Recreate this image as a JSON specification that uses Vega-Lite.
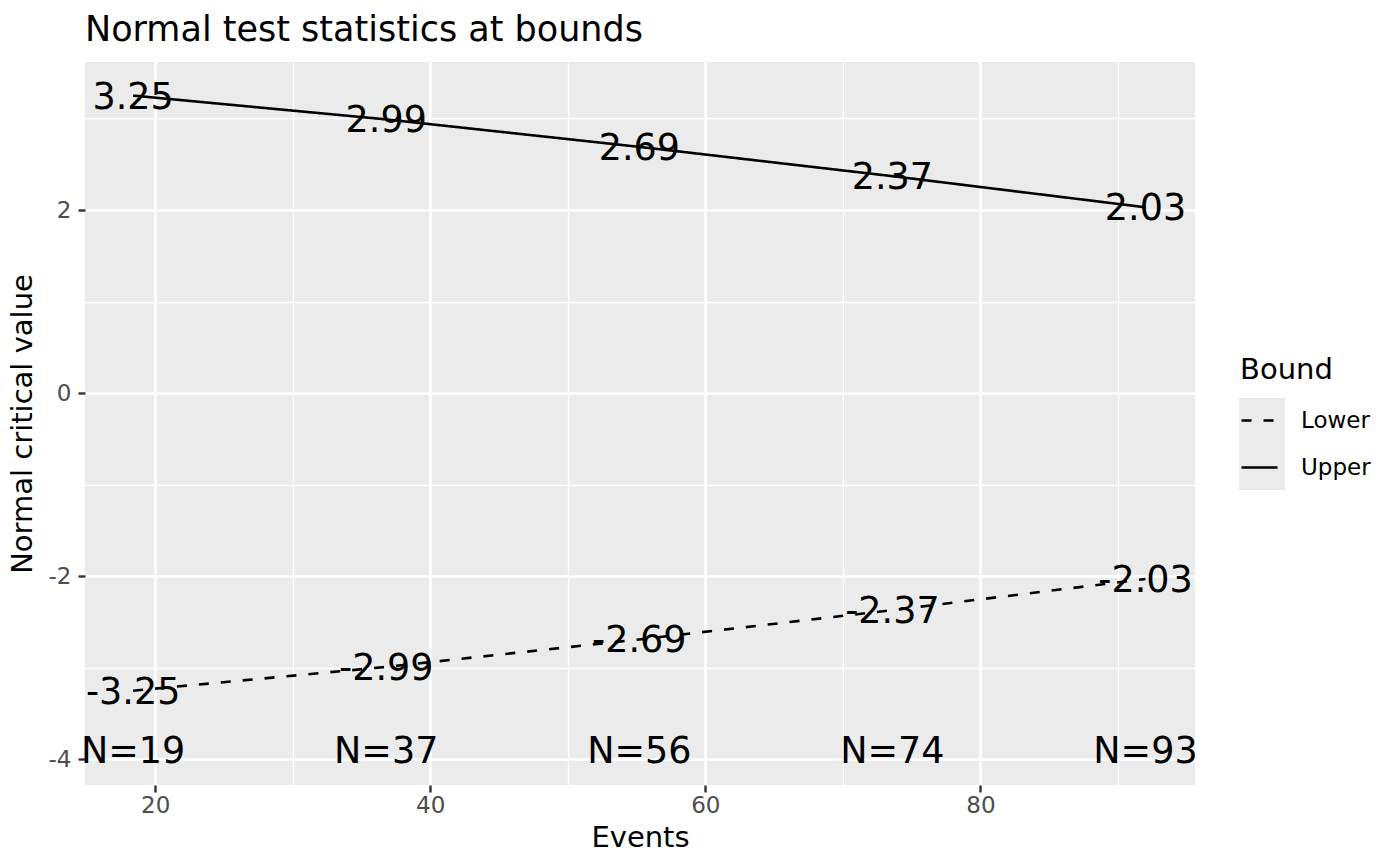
{
  "$schema": "https://vega.github.io/schema/vega-lite/v6.json",
  "autosize": {"type": "none"},
  "padding": {"left": 85, "top": 62, "right": 205, "bottom": 81},
  "width": 1110,
  "height": 723,
  "background": "white",
  "title": {
    "text": "Normal test statistics at bounds",
    "anchor": "start",
    "frame": "group",
    "font": "DejaVu Sans",
    "fontSize": 35,
    "fontWeight": "normal",
    "color": "black",
    "offset": 14
  },
  "datasets": {
    "bounds": [
      {"Bound": "Upper", "Events": 18.4, "Z": 3.25},
      {"Bound": "Upper", "Events": 36.8, "Z": 2.99},
      {"Bound": "Upper", "Events": 55.2, "Z": 2.69},
      {"Bound": "Upper", "Events": 73.6, "Z": 2.37},
      {"Bound": "Upper", "Events": 92.0, "Z": 2.03},
      {"Bound": "Lower", "Events": 18.4, "Z": -3.25},
      {"Bound": "Lower", "Events": 36.8, "Z": -2.99},
      {"Bound": "Lower", "Events": 55.2, "Z": -2.69},
      {"Bound": "Lower", "Events": 73.6, "Z": -2.37},
      {"Bound": "Lower", "Events": 92.0, "Z": -2.03}
    ],
    "samples": [
      {"Events": 18.4, "N": "N=19"},
      {"Events": 36.8, "N": "N=37"},
      {"Events": 55.2, "N": "N=56"},
      {"Events": 73.6, "N": "N=74"},
      {"Events": 92.0, "N": "N=93"}
    ]
  },
  "config": {
    "font": "DejaVu Sans",
    "view": {"fill": "#EBEBEB", "stroke": null},
    "axis": {
      "domain": false,
      "gridColor": "white",
      "tickColor": "#333333",
      "tickWidth": 2.4,
      "tickSize": 7,
      "labelColor": "#4D4D4D",
      "labelFont": "DejaVu Sans",
      "labelFontSize": 23,
      "titleFont": "DejaVu Sans",
      "titleFontSize": 29,
      "titleFontWeight": "normal",
      "titleColor": "black"
    },
    "legend": {
      "titleFont": "DejaVu Sans",
      "titleFontSize": 29,
      "titleFontWeight": "normal",
      "titleColor": "black",
      "labelFont": "DejaVu Sans",
      "labelFontSize": 23,
      "labelColor": "black"
    }
  },
  "layer": [
    {
      "data": {"name": "bounds"},
      "mark": {"type": "point", "shape": "square", "filled": true, "opacity": 0},
      "encoding": {
        "x": {"field": "Events", "type": "quantitative"},
        "y": {"field": "Z", "type": "quantitative"},
        "fill": {
          "field": "Bound",
          "type": "nominal",
          "scale": {"domain": ["Upper", "Lower"], "range": ["#EBEBEB", "#EBEBEB"]},
          "legend": {
            "title": null,
            "orient": "none",
            "legendX": 1154,
            "legendY": 336,
            "padding": 0,
            "zindex": 0,
            "symbolType": "square",
            "symbolSize": 2116,
            "symbolOpacity": 1,
            "symbolStrokeWidth": 0,
            "rowPadding": 0,
            "labelExpr": "''",
            "labelFontSize": 1
          }
        }
      }
    },
    {
      "data": {"name": "bounds"},
      "mark": {"type": "line", "color": "black", "strokeWidth": 2.6},
      "encoding": {
        "x": {
          "field": "Events",
          "type": "quantitative",
          "title": "Events",
          "scale": {"domain": [14.9, 95.6], "nice": false, "zero": false},
          "axis": {
            "values": [20, 30, 40, 50, 60, 70, 80, 90],
            "labelExpr": "datum.value % 20 === 0 ? '' + datum.value : ''",
            "gridWidth": {"condition": {"test": "datum.value % 20 === 0", "value": 2.6}, "value": 1.3},
            "tickOpacity": {"condition": {"test": "datum.value % 20 === 0", "value": 1}, "value": 0},
            "labelPadding": 2,
            "titlePadding": 6
          }
        },
        "y": {
          "field": "Z",
          "type": "quantitative",
          "title": "Normal critical value",
          "scale": {"domain": [-4.28, 3.617], "nice": false, "zero": false},
          "axis": {
            "values": [-4, -3, -2, -1, 0, 1, 2, 3],
            "labelExpr": "datum.value % 2 === 0 ? '' + datum.value : ''",
            "gridWidth": {"condition": {"test": "datum.value % 2 === 0", "value": 2.6}, "value": 1.3},
            "tickOpacity": {"condition": {"test": "datum.value % 2 === 0", "value": 1}, "value": 0},
            "labelPadding": 7,
            "titlePadding": 11
          }
        },
        "strokeDash": {
          "field": "Bound",
          "type": "nominal",
          "scale": {"domain": ["Lower", "Upper"], "range": [[10, 12], [1, 0]]},
          "legend": {
            "title": "Bound",
            "orient": "none",
            "legendX": 1155,
            "legendY": 294,
            "padding": 0,
            "zindex": 1,
            "symbolType": "stroke",
            "symbolSize": 1296,
            "symbolStrokeWidth": 2.6,
            "symbolStrokeColor": "black",
            "rowPadding": 15,
            "titlePadding": 16,
            "labelOffset": 22
          }
        }
      }
    },
    {
      "data": {"name": "bounds"},
      "mark": {"type": "text", "fontSize": 36.5, "color": "black", "align": "center", "baseline": "middle", "dy": 2},
      "encoding": {
        "x": {"field": "Events", "type": "quantitative"},
        "y": {"field": "Z", "type": "quantitative"},
        "text": {"field": "Z", "type": "nominal"}
      }
    },
    {
      "data": {"name": "samples"},
      "mark": {"type": "text", "fontSize": 36.5, "color": "black", "align": "center", "baseline": "middle", "dy": 2},
      "encoding": {
        "x": {"field": "Events", "type": "quantitative"},
        "y": {"datum": -3.9},
        "text": {"field": "N", "type": "nominal"}
      }
    }
  ]
}
